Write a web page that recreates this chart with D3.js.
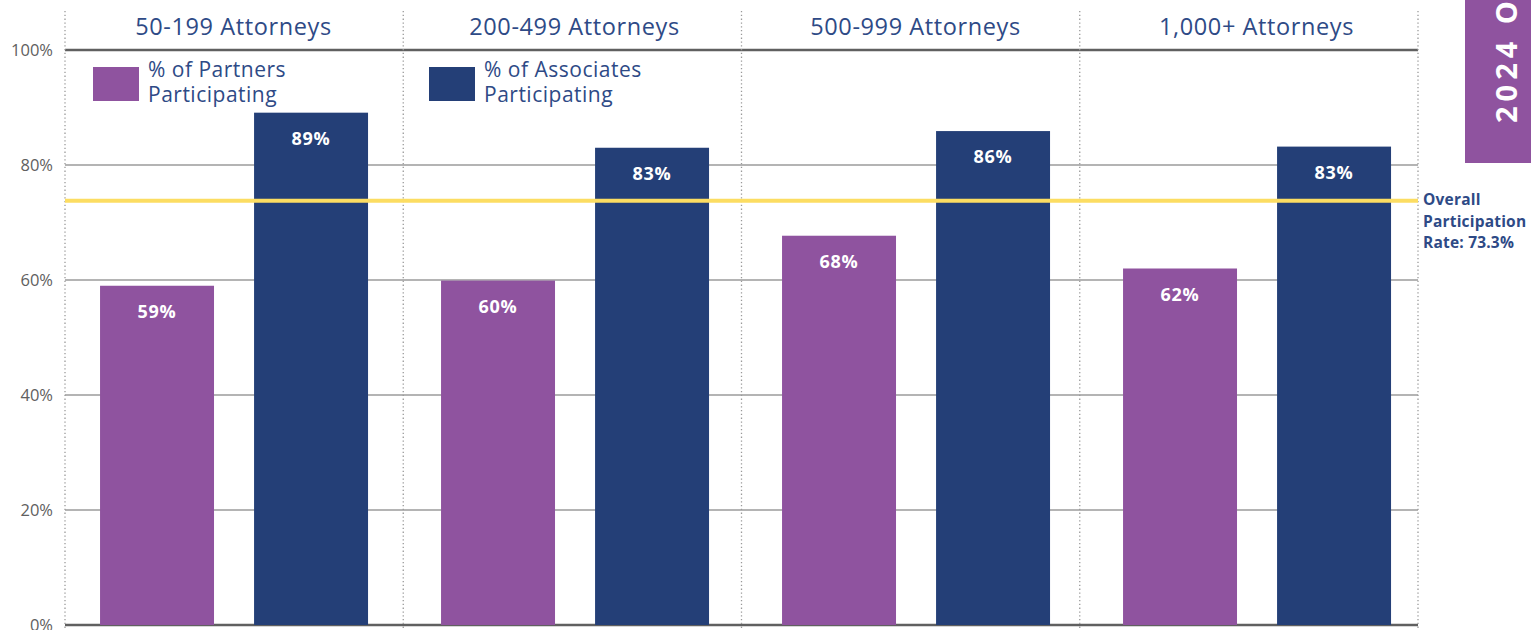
<!DOCTYPE html>
<html>
<head>
<meta charset="utf-8">
<script src="https://cdn.jsdelivr.net/npm/d3@7"></script>
<style>
  html, body { margin: 0; padding: 0; background: #fff; overflow: hidden; }
  svg { display: block; font-family: "Open Sans", sans-serif; }
</style>
</head>
<body>
<svg id="chart"></svg>
<script>
// firm-size groups and series
const groups = ["50-199 Attorneys", "200-499 Attorneys", "500-999 Attorneys", "1,000+ Attorneys"];
const series = ["partners", "associates"];
const seriesLabels = [["% of Partners", "Participating"], ["% of Associates", "Participating"]];
const partners = [59.0, 59.9, 67.7, 62.0];
const associates = [89.1, 83.0, 85.9, 83.2];
const barLabels = [["59%", "89%"], ["60%", "83%"], ["68%", "86%"], ["62%", "83%"]];
const yTicks = [0, 20, 40, 60, 80, 100];
const overallLine = 73.8; // where the line sits in the picture
const overallLabel = ["Overall", "Participation", "Rate: 73.3%"];
const tabText = "2024 OVERVIEW";

const width = 1531, height = 630;
const colors = { partners: "#8f539f", associates: "#243f77" };
const navyText = "#2e4a86";

const svg = d3.select("#chart")
    .attr("width", width)
    .attr("height", height);

// panels (separators) and bars use slightly different bands, like the original
const xPanel = d3.scaleBand().domain(groups).range([65, 1418]);
const x = d3.scaleBand().domain(groups).range([65, 1429]);
const xs = d3.scaleBand().domain(series).range([0, x.bandwidth()])
    .paddingInner(0.26).paddingOuter(0.237).align(0.48);
const y = d3.scaleLinear().domain([0, 100]).range([625, 50]);

// gridlines
svg.append("g")
    .selectAll("line")
    .data(yTicks)
    .join("line")
    .attr("x1", 65).attr("x2", 1418)
    .attr("y1", d => y(d)).attr("y2", d => y(d))
    .attr("stroke", d => (d === 0 || d === 100) ? "#606060" : "#b4b4b4")
    .attr("stroke-width", d => (d === 0 || d === 100) ? 2.5 : 2);

// y axis labels
svg.append("g")
    .selectAll("text")
    .data(yTicks)
    .join("text")
    .attr("x", 53)
    .attr("y", d => y(d))
    .attr("dy", "0.35em")
    .attr("text-anchor", "end")
    .attr("fill", "#606060")
    .attr("font-size", 16.5)
    .text(d => d + "%");

// dotted panel separators
const seps = groups.map(g => xPanel(g)).concat([xPanel.range()[1]]);
svg.append("g")
    .selectAll("line")
    .data(seps)
    .join("line")
    .attr("x1", d => d).attr("x2", d => d)
    .attr("y1", 11).attr("y2", height)
    .attr("stroke", "#9a9a9a")
    .attr("stroke-width", 1.3)
    .attr("stroke-dasharray", "1.3,2.5");

// panel titles
svg.append("g")
    .selectAll("text")
    .data(groups)
    .join("text")
    .attr("x", d => x(d) + x.bandwidth() / 2 - 2)
    .attr("y", 35)
    .attr("text-anchor", "middle")
    .attr("fill", navyText)
    .attr("font-size", 23.5)
    .attr("letter-spacing", 0.6)
    .text(d => d);

// bars
const rows = groups.map((g, i) => ({ group: g, i, values: [partners[i], associates[i]] }));
const panel = svg.append("g")
    .selectAll("g")
    .data(rows)
    .join("g")
    .attr("transform", d => `translate(${x(d.group)},0)`);

panel.selectAll("rect")
    .data(d => series.map((s, j) => ({ s, v: d.values[j], label: barLabels[d.i][j] })))
    .join("rect")
    .attr("x", d => xs(d.s))
    .attr("width", xs.bandwidth())
    .attr("y", d => y(d.v))
    .attr("height", d => y(0) - y(d.v))
    .attr("fill", d => colors[d.s]);

// overall line
svg.append("line")
    .attr("x1", 65).attr("x2", 1418)
    .attr("y1", y(overallLine)).attr("y2", y(overallLine))
    .attr("stroke", "#fcdd62")
    .attr("stroke-width", 4);

panel.selectAll("text.val")
    .data(d => series.map((s, j) => ({ s, v: d.values[j], label: barLabels[d.i][j] })))
    .join("text")
    .attr("class", "val")
    .attr("x", d => xs(d.s) + xs.bandwidth() / 2)
    .attr("y", d => y(d.v) + 32)
    .attr("text-anchor", "middle")
    .attr("fill", "#fff")
    .attr("font-weight", "bold")
    .attr("font-size", 18)
    .attr("letter-spacing", 0.8)
    .text(d => d.label);

// legend
const legendX = [93, 429];
const legend = svg.append("g")
    .selectAll("g")
    .data(series)
    .join("g")
    .attr("transform", (d, i) => `translate(${legendX[i]},67)`);

legend.append("rect")
    .attr("width", 46).attr("height", 34)
    .attr("fill", d => colors[d]);

legend.append("text")
    .attr("fill", navyText)
    .attr("font-size", 21)
    .attr("letter-spacing", 0.5)
    .selectAll("tspan")
    .data((d, i) => seriesLabels[i])
    .join("tspan")
    .attr("x", 55)
    .attr("y", (d, k) => 10 + k * 25)
    .text(d => d);

// overall label
svg.append("text")
    .attr("fill", navyText)
    .attr("font-weight", "bold")
    .attr("font-size", 15.5)
    .attr("letter-spacing", 0.2)
    .selectAll("tspan")
    .data(overallLabel)
    .join("tspan")
    .attr("x", 1423)
    .attr("y", (d, k) => 205 + k * 21.5)
    .text(d => d);

// side tab
svg.append("rect")
    .attr("x", 1465).attr("y", -5)
    .attr("width", 80).attr("height", 168)
    .attr("fill", "#8f539f");

svg.append("text")
    .attr("transform", "translate(1517,123) rotate(-90)")
    .attr("fill", "#fff")
    .attr("font-weight", "bold")
    .attr("font-size", 29)
    .attr("letter-spacing", 5)
    .text(tabText);
</script>
</body>
</html>
